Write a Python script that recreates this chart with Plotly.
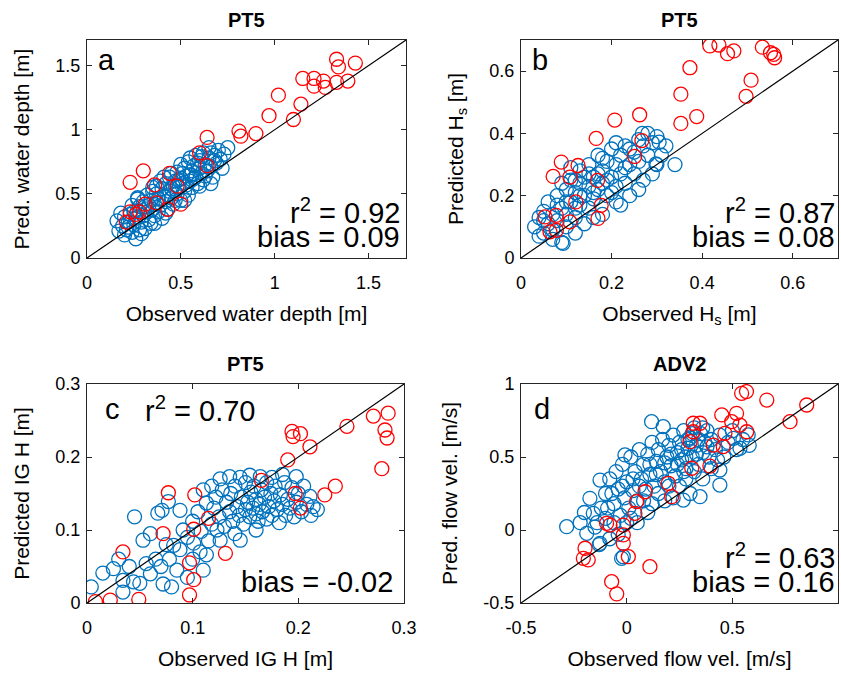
import plotly.graph_objects as go

# ---------------- data ----------------
a_blue = [
(0.17,0.21),(0.16,0.29),(0.19,0.25),(0.20,0.32),(0.21,0.22),(0.22,0.28),(0.23,0.34),(0.24,0.20),(0.25,0.26),(0.26,0.15),
(0.26,0.31),(0.27,0.37),(0.28,0.22),(0.29,0.28),(0.30,0.33),(0.31,0.23),(0.31,0.40),(0.32,0.36),(0.33,0.30),(0.34,0.45),
(0.34,0.27),(0.35,0.38),(0.36,0.42),(0.36,0.33),(0.37,0.50),(0.38,0.36),(0.38,0.46),(0.39,0.41),(0.40,0.54),(0.40,0.31),
(0.41,0.48),(0.42,0.44),(0.42,0.58),(0.43,0.38),(0.44,0.52),(0.44,0.63),(0.45,0.47),(0.46,0.56),(0.46,0.42),(0.47,0.60),
(0.48,0.50),(0.48,0.67),(0.49,0.55),(0.50,0.45),(0.50,0.62),(0.51,0.58),(0.52,0.70),(0.52,0.52),(0.53,0.64),(0.54,0.49),
(0.54,0.75),(0.55,0.60),(0.56,0.68),(0.56,0.55),(0.57,0.72),(0.58,0.63),(0.58,0.80),(0.59,0.58),(0.60,0.70),(0.60,0.76),
(0.61,0.66),(0.62,0.82),(0.62,0.61),(0.63,0.73),(0.64,0.68),(0.65,0.78),(0.65,0.86),(0.66,0.71),(0.67,0.63),(0.68,0.80),
(0.69,0.74),(0.70,0.84),(0.71,0.77),(0.72,0.70),(0.73,0.81),(0.75,0.86),(0.30,0.44),(0.32,0.49),(0.35,0.52),(0.37,0.56),
(0.39,0.60),(0.41,0.63),(0.28,0.40),(0.33,0.41),(0.43,0.49),(0.45,0.54),(0.47,0.45),(0.49,0.61),(0.51,0.66),(0.53,0.57),
(0.55,0.65),(0.57,0.62),(0.59,0.74),(0.61,0.79),(0.63,0.64),(0.66,0.82),(0.68,0.76),(0.25,0.36),(0.22,0.24),(0.20,0.18),
(0.29,0.19),(0.36,0.27),(0.42,0.35),(0.52,0.45),(0.60,0.56),(0.66,0.58),(0.18,0.35),(0.24,0.41),(0.27,0.46),(0.55,0.78),
(0.35,0.55),(0.27,0.47),(0.50,0.73),(0.45,0.66),
]
a_red = [
(1.33,1.55),(1.43,1.52),(1.34,1.49),(1.15,1.40),(1.21,1.40),(1.21,1.34),(1.26,1.38),(1.27,1.33),(1.33,1.37),(1.39,1.38),
(1.02,1.27),(1.14,1.20),(1.10,1.08),(0.97,1.11),(0.81,0.99),(0.82,0.95),(0.90,0.97),(0.64,0.94),(0.60,0.82),(0.64,0.72),
(0.30,0.68),(0.23,0.59),(0.36,0.57),(0.44,0.66),(0.48,0.56),(0.37,0.43),(0.31,0.42),(0.23,0.36),(0.28,0.36),(0.21,0.28),
(0.43,0.38),(0.50,0.42),(0.26,0.34),
]
b_blue = [
(0.03,0.10),(0.04,0.13),(0.05,0.08),(0.05,0.15),(0.06,0.11),(0.06,0.18),(0.07,0.09),(0.07,0.14),(0.08,0.12),(0.08,0.20),
(0.09,0.05),(0.09,0.16),(0.10,0.10),(0.10,0.22),(0.10,0.14),(0.11,0.18),(0.11,0.25),(0.12,0.13),(0.12,0.21),(0.13,0.17),
(0.13,0.28),(0.13,0.24),(0.14,0.20),(0.14,0.11),(0.15,0.23),(0.15,0.30),(0.15,0.16),(0.16,0.26),(0.16,0.19),(0.17,0.33),
(0.17,0.22),(0.18,0.28),(0.18,0.24),(0.18,0.14),(0.19,0.31),(0.19,0.20),(0.20,0.26),(0.20,0.35),(0.21,0.23),(0.21,0.30),
(0.21,0.18),(0.22,0.33),(0.22,0.27),(0.23,0.36),(0.23,0.24),(0.24,0.30),(0.24,0.20),(0.25,0.34),(0.25,0.27),(0.26,0.38),
(0.26,0.31),(0.27,0.36),(0.27,0.25),(0.28,0.40),(0.28,0.33),(0.29,0.37),(0.30,0.30),(0.30,0.39),(0.31,0.33),(0.32,0.36),
(0.34,0.30),(0.22,0.17),(0.16,0.13),(0.12,0.08),(0.07,0.06),(0.04,0.07),(0.09,0.24),(0.11,0.29),(0.13,0.20),(0.19,0.25),
(0.23,0.29),(0.17,0.27),(0.14,0.26),(0.20,0.21),(0.26,0.22),(0.29,0.27),(0.05,0.12),(0.08,0.17),(0.10,0.18),(0.12,0.16),
(0.093,0.047),(0.305,0.372),(0.298,0.302),(0.268,0.40),(0.24,0.35),(0.21,0.37),(0.18,0.32),(0.15,0.27),(0.12,0.25),(0.16,0.21),
]
b_red = [
(0.417,0.681),(0.437,0.684),(0.456,0.656),(0.470,0.665),(0.533,0.677),(0.551,0.659),(0.558,0.654),(0.560,0.643),
(0.373,0.611),(0.508,0.571),(0.497,0.519),(0.353,0.526),(0.353,0.432),(0.388,0.454),(0.262,0.460),(0.207,0.443),
(0.166,0.384),(0.267,0.377),(0.251,0.326),(0.089,0.308),(0.071,0.262),(0.126,0.297),(0.108,0.260),(0.169,0.249),
(0.121,0.180),(0.177,0.169),(0.170,0.127),(0.053,0.132),(0.078,0.137),(0.108,0.116),(0.064,0.084),(0.078,0.089),
]
c_blue = [
(0.004,0.022),(0.015,0.041),(0.025,0.047),(0.034,0.031),(0.044,0.029),(0.050,0.027),(0.034,0.015),(0.080,0.022),(0.072,0.026),(0.056,0.054),
(0.053,0.086),(0.045,0.118),(0.067,0.123),(0.071,0.127),(0.077,0.139),(0.088,0.127),(0.091,0.100),(0.082,0.079),(0.088,0.073),(0.101,0.082),
(0.107,0.070),(0.110,0.155),(0.113,0.137),(0.123,0.100),(0.126,0.086),(0.113,0.066),(0.145,0.086),(0.135,0.173),(0.154,0.175),(0.164,0.173),
(0.214,0.132),(0.211,0.146),(0.198,0.173),(0.060,0.040),(0.065,0.060),(0.070,0.050),(0.075,0.080),(0.060,0.095),(0.040,0.050),(0.030,0.060),
(0.095,0.090),(0.100,0.112),(0.105,0.125),(0.108,0.098),(0.115,0.085),(0.118,0.108),(0.120,0.130),(0.122,0.145),(0.125,0.118),(0.128,0.155),
(0.130,0.105),(0.132,0.138),(0.135,0.125),(0.136,0.150),(0.138,0.112),(0.140,0.160),(0.142,0.132),(0.144,0.120),(0.146,0.145),(0.148,0.108),
(0.150,0.165),(0.150,0.128),(0.152,0.138),(0.154,0.118),(0.155,0.152),(0.157,0.130),(0.158,0.160),(0.160,0.122),(0.160,0.142),(0.162,0.112),
(0.163,0.135),(0.165,0.155),(0.166,0.125),(0.168,0.145),(0.170,0.115),(0.170,0.165),(0.172,0.132),(0.174,0.150),(0.175,0.120),(0.177,0.140),
(0.178,0.160),(0.180,0.128),(0.182,0.110),(0.183,0.148),(0.185,0.135),(0.187,0.165),(0.188,0.120),(0.190,0.142),(0.192,0.130),(0.194,0.158),
(0.196,0.118),(0.198,0.138),(0.200,0.150),(0.203,0.125),(0.205,0.160),(0.208,0.135),(0.212,0.120),(0.218,0.128),(0.140,0.095),(0.160,0.100),
(0.118,0.160),(0.126,0.170),(0.145,0.172),(0.175,0.172),(0.185,0.176),(0.100,0.060),(0.085,0.045),(0.078,0.060),(0.095,0.035),(0.110,0.045),
]
c_red = [
(0.271,0.256),(0.285,0.260),(0.282,0.237),(0.284,0.226),(0.279,0.184),(0.246,0.242),(0.194,0.235),(0.202,0.232),(0.195,0.228),(0.211,0.214),
(0.190,0.196),(0.165,0.168),(0.235,0.160),(0.225,0.148),(0.197,0.150),(0.202,0.130),(0.077,0.151),(0.102,0.148),(0.115,0.116),(0.101,0.101),
(0.072,0.095),(0.034,0.070),(0.131,0.068),(0.097,0.055),(0.101,0.032),(0.097,0.011),(0.049,0.005),(0.022,0.004),(0.008,0.002),
]
d_blue = [
(-0.284,0.023),(0.118,0.742),(0.173,0.708),(-0.008,0.514),(-0.126,0.342),(-0.174,0.217),(-0.158,0.114),(-0.189,-0.023),(-0.126,-0.091),(-0.016,-0.183),
(0.536,0.560),(0.505,0.628),(0.575,0.651),(0.441,0.308),(0.347,0.228),(0.268,0.205),(0.441,0.411),(-0.22,0.05),(-0.20,0.12),(-0.15,0.02),
(-0.12,0.15),(-0.10,0.08),(-0.10,0.25),(-0.08,0.35),(-0.06,0.18),(-0.05,0.40),(-0.04,0.28),(-0.03,0.10),(-0.02,0.45),(-0.01,0.22),
(0.00,0.33),(0.01,0.15),(0.02,0.50),(0.03,0.27),(0.04,0.40),(0.05,0.20),(0.06,0.55),(0.07,0.35),(0.08,0.45),(0.09,0.28),
(0.10,0.52),(0.11,0.38),(0.12,0.60),(0.13,0.30),(0.14,0.47),(0.15,0.55),(0.16,0.40),(0.17,0.62),(0.18,0.33),(0.19,0.50),
(0.20,0.58),(0.21,0.44),(0.22,0.65),(0.23,0.37),(0.24,0.53),(0.25,0.60),(0.26,0.48),(0.27,0.68),(0.28,0.42),(0.29,0.56),
(0.30,0.63),(0.31,0.50),(0.32,0.70),(0.33,0.58),(0.34,0.45),(0.35,0.66),(0.36,0.53),(0.37,0.60),(0.38,0.68),(0.39,0.50),
(0.40,0.62),(0.42,0.55),(0.44,0.65),(0.46,0.50),(0.48,0.60),(0.50,0.68),(0.52,0.55),(0.55,0.62),(0.58,0.58),(0.25,0.30),
(0.22,0.22),(0.18,0.20),(0.15,0.25),(0.12,0.18),(0.10,0.12),(0.05,0.05),(0.02,0.08),(-0.04,-0.03),(-0.08,-0.06),(-0.13,-0.10),
(0.28,0.35),(0.32,0.40),(0.36,0.35),(0.40,0.42),(0.43,0.48),(0.30,0.25),(0.20,0.30),(0.08,0.20),(0.00,0.05),(-0.06,0.05),
(0.26,0.55),(0.29,0.62),(0.31,0.66),(0.34,0.62),(0.36,0.70),(0.28,0.50),(0.24,0.45),(0.21,0.52),(0.18,0.46),(0.14,0.38),
(0.11,0.45),(0.06,0.30),(0.03,0.35),(-0.02,0.30),(-0.07,0.25),(-0.09,0.15),(-0.14,0.05),(0.38,0.57),(0.33,0.52),(0.27,0.40),
(-0.024,-0.194),
]
d_red = [
(0.544,0.936),(0.567,0.948),(0.663,0.890),(0.852,0.856),(0.773,0.742),(0.450,0.788),(0.520,0.799),(0.497,0.742),(0.536,0.719),
(0.568,0.673),(0.465,0.662),(0.315,0.731),(0.347,0.731),(0.315,0.673),(0.300,0.605),(0.410,0.582),(0.457,0.571),(0.308,0.423),
(0.394,0.438),(0.197,0.320),(0.213,0.228),(0.087,0.262),(0.047,0.194),(0.039,0.114),(-0.079,0.034),(-0.095,0.046),(-0.016,0.034),
(-0.016,-0.034),(-0.016,-0.091),(0.008,-0.183),(-0.197,-0.125),(-0.205,-0.194),(-0.182,-0.205),(0.110,-0.251),(-0.071,-0.354),(-0.047,-0.438),
]

ranges = {"a": [0, 1.7], "b": [0, 0.7], "c": [0, 0.3], "d": [-0.5, 1]}
ticks = {
    "a": ([0, 0.5, 1, 1.5], ["0", "0.5", "1", "1.5"]),
    "b": ([0, 0.2, 0.4, 0.6], ["0", "0.2", "0.4", "0.6"]),
    "c": ([0, 0.1, 0.2, 0.3], ["0", "0.1", "0.2", "0.3"]),
    "d": ([-0.5, 0, 0.5, 1], ["-0.5", "0", "0.5", "1"]),
}
titles = {"a": "PT5", "b": "PT5", "c": "PT5", "d": "ADV2"}
xlabels = {"a": "Observed water depth [m]", "b": "Observed H<sub>s</sub> [m]",
           "c": "Observed IG H [m]", "d": "Observed flow vel. [m/s]"}
ylabels = {"a": "Pred. water depth [m]", "b": "Predicted H<sub>s</sub> [m]",
           "c": "Predicted IG H [m]", "d": "Pred. flow vel. [m/s]"}
r2_text = {"a": "0.92", "b": "0.87", "c": "0.70", "d": "0.63"}
bias_text = {"a": "0.09", "b": "0.08", "c": "-0.02", "d": "0.16"}
blue_sets = {"a": a_blue, "b": b_blue, "c": c_blue, "d": d_blue}
red_sets = {"a": a_red, "b": b_red, "c": c_red, "d": d_red}

# ---------------- layout geometry ----------------
W, H = 841, 673
px_box = {"a": (87, 406, 40, 258), "b": (521, 838, 40, 258),
          "c": (87, 404, 384, 603), "d": (521, 838, 384, 603)}

BLUE = "#0072BD"
RED = "#FF0000"
FONT = "Liberation Sans, Arial, Helvetica, sans-serif"
AX = "#262626"

fig = go.Figure()
layout = dict(template="none", width=W, height=H, margin=dict(l=0, r=0, t=0, b=0),
              autosize=False, paper_bgcolor="white", plot_bgcolor="white", showlegend=False,
              font=dict(family=FONT, color="black"))
annotations = []

for i, k in enumerate(["a", "b", "c", "d"]):
    n = "" if i == 0 else str(i + 1)
    xa, ya = "x" + n, "y" + n
    x0, x1, y0, y1 = px_box[k]
    xdom = [x0 / W, x1 / W]
    ydom = [(H - y1) / H, (H - y0) / H]
    r = ranges[k]
    tv, tt = ticks[k]
    axcommon = dict(range=r, tickvals=tv, ticktext=tt, ticks="inside", ticklen=5,
                    tickcolor=AX, showline=True, linecolor=AX, linewidth=1,
                    mirror="allticks", showgrid=False, zeroline=False, automargin=False,
                    tickfont=dict(size=18, family=FONT, color="black"), fixedrange=True)
    layout["xaxis" + n] = dict(domain=xdom, anchor=ya, ticklabelstandoff=8,
                               title=dict(text=xlabels[k], font=dict(size=21), standoff=14),
                               **axcommon)
    layout["yaxis" + n] = dict(domain=ydom, anchor=xa, ticklabelstandoff=2,
                               title=dict(text=ylabels[k], font=dict(size=21), standoff=20),
                               **axcommon)
    bx = [p[0] for p in blue_sets[k]]
    by = [p[1] for p in blue_sets[k]]
    rx = [p[0] for p in red_sets[k]]
    ry = [p[1] for p in red_sets[k]]
    mk = dict(symbol="circle-open", size=14, line=dict(width=1.3))
    fig.add_trace(go.Scatter(x=bx, y=by, mode="markers", xaxis=xa, yaxis=ya,
                             marker=dict(color=BLUE, **mk)))
    fig.add_trace(go.Scatter(x=rx, y=ry, mode="markers", xaxis=xa, yaxis=ya,
                             marker=dict(color=RED, **mk)))
    fig.add_trace(go.Scatter(x=r, y=r, mode="lines", xaxis=xa, yaxis=ya,
                             line=dict(color="black", width=1.2)))

    xd, yd = xa + " domain", ya + " domain"
    # title
    annotations.append(dict(text="<b>" + titles[k] + "</b>", xref=xd, yref=yd, x=0.5, y=1.0,
                            yshift=7, xanchor="center", yanchor="bottom", showarrow=False,
                            font=dict(size=20)))
    # panel letter
    lx = 0.05 if k == "c" else (0.035 if k == "d" else 0.028)
    ly = 0.91 if k in ("a", "b") else 0.885
    annotations.append(dict(text=k, xref=xd, yref=yd, x=lx, y=ly, xanchor="left",
                            yanchor="middle", showarrow=False, font=dict(size=29)))
    if k == "c":
        annotations.append(dict(text="r<sup>2</sup> = " + r2_text[k], xref=xd, yref=yd,
                                x=(143 - 87) / 317, y=0.885, xanchor="left", yanchor="middle",
                                showarrow=False, font=dict(size=29)))
        annotations.append(dict(text="bias = " + bias_text[k], xref=xd, yref=yd, x=0.972,
                                y=0.098, xanchor="right", yanchor="middle", showarrow=False,
                                font=dict(size=29)))
    else:
        rxp = 0.987 if k == "a" else 0.998
        annotations.append(dict(text="r<sup>2</sup> = " + r2_text[k], xref=xd, yref=yd, x=rxp,
                                y=0.215, xanchor="right", yanchor="middle", showarrow=False,
                                font=dict(size=29)))
        annotations.append(dict(text="bias = " + bias_text[k], xref=xd, yref=yd, x=rxp,
                                y=0.098, xanchor="right", yanchor="middle", showarrow=False,
                                font=dict(size=29)))

layout["annotations"] = annotations
fig.update_layout(**layout)
fig.write_html("out.html", config={"displayModeBar": False},
               post_script="document.body.style.margin='0px';document.body.style.padding='0px';")
